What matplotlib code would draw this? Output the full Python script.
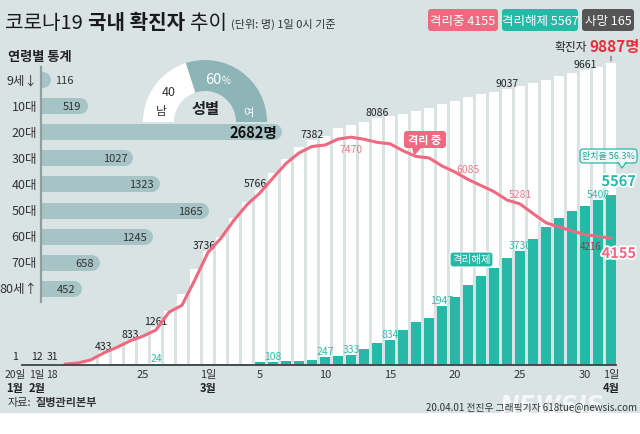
import numpy as np
import pandas as pd
import matplotlib
matplotlib.use("Agg")
import matplotlib.pyplot as plt
from matplotlib import font_manager
from matplotlib.patches import Rectangle, Wedge, FancyBboxPatch, Polygon
import matplotlib.patheffects as pe

KR = "Noto Sans CJK KR"
_avail = {f.name for f in font_manager.fontManager.ttflist}
NARROW = "Liberation Sans Narrow" if "Liberation Sans Narrow" in _avail else KR
NUM = [NARROW, KR, "DejaVu Sans"]
plt.rcParams["font.family"] = [KR, "DejaVu Sans"]

# -----------------------------
# data (1일 0시 기준)
# -----------------------------
days = pd.date_range("2020-02-18", "2020-04-01")
confirmed = [31, 46, 104, 204, 433, 602, 833, 977, 1261, 1766, 2337, 3150,
             3736, 4212, 4812, 5328, 5766, 6284, 6767, 7134, 7382, 7513,
             7755, 7869, 7979, 8086, 8162, 8236, 8320, 8413, 8565, 8652,
             8799, 8897, 8961, 9037, 9137, 9241, 9332, 9478, 9583, 9661,
             9786, 9887]
released = [12, 12, 16, 16, 16, 18, 18, 22, 24, 24, 26, 27,
            28, 30, 30, 34, 88, 108, 118, 130, 166, 247,
            288, 333, 510, 714, 834, 1137, 1401, 1540, 1947, 2233,
            2612, 2909, 3166, 3507, 3730, 4144, 4528, 4811, 5033, 5228,
            5408, 5567]
isolated = [np.nan, 30, 65, 170, 400, 580, 790, 945, 1150, 1730, 1960, 2800,
            3690, 4159, 4750, 5255, 5643, 6134, 6605, 6954, 7165, 7212,
            7407, 7470, 7402, 7300, 7253, 7024, 6838, 6789, 6527, 6325,
            6085, 5884, 5684, 5410, 5281, 4966, 4665, 4523, 4398, 4275,
            4216, 4155]
deaths_total = 165

# 압축 구간 (1월 20일, 2월 1일)
early_x = [-2.85, -1.15]
early_vals = [1, 12]
early_days = ["20일", "1일"]
early_months = ["1월", "2월"]

tick_dates = ["2020-02-18", "2020-02-25", "2020-03-01", "2020-03-05", "2020-03-10",
              "2020-03-15", "2020-03-20", "2020-03-25", "2020-03-30", "2020-04-01"]
conf_label_dates = ["2020-02-22", "2020-02-24", "2020-02-26", "2020-03-01", "2020-03-05",
                    "2020-03-09", "2020-03-14", "2020-03-24", "2020-03-30"]
rel_label_dates = ["2020-02-26", "2020-03-06", "2020-03-10", "2020-03-12", "2020-03-15",
                   "2020-03-19", "2020-03-25", "2020-03-31"]
iso_label_dates = ["2020-03-12", "2020-03-21", "2020-03-25", "2020-03-31"]

age_groups = ["9세↓", "10대", "20대", "30대", "40대", "50대", "60대", "70대", "80세↑"]
age_counts = [116, 519, 2682, 1027, 1323, 1865, 1245, 658, 452]

gender = ["남", "여"]
gender_pct = [40, 60]

# colors
BG = "#d9e3e4"
TEAL = "#27b9a7"
PINK = "#ef6a80"
AGE = "#a6c3c5"
FEM = "#8db4b6"
DARK = "#222222"

x = np.array([(d - days[0]).days for d in days])
idx = {d.strftime("%Y-%m-%d"): i for i, d in enumerate(days)}

# -----------------------------
# figure / axes in pixel layout
# -----------------------------
W, H = 640, 435
fig = plt.figure(figsize=(6.4, 4.35), dpi=100)
fig.patch.set_facecolor("white")


def px_axes(x0, y0, x1, y1, z):
    a = fig.add_axes([x0 / W, 1 - y1 / H, (x1 - x0) / W, (y1 - y0) / H], zorder=z)
    a.set_axis_off()
    return a


bg = px_axes(0, 0, W, H, 0)
bg.set_xlim(0, W)
bg.set_ylim(H, 0)
bg.add_patch(Rectangle((0, 0), W, 414, color=BG, lw=0))

# main chart: Feb 18 at x=52px, 13px per day, baseline y=366px
X0, PXD, BASE, PXC = 52, 13.0, 366, 0.0305
ax = px_axes(0, 40, W, BASE, 2)
ax.set_xlim(-X0 / PXD, (W - X0) / PXD)
ax.set_ylim(0, (BASE - 40) / PXC)

ax.bar(x, confirmed, width=0.76, color="white", lw=0, zorder=2)
ax.bar(x, released, width=0.76, color=TEAL, lw=0, zorder=3)
ax.plot(x, isolated, color=PINK, lw=2.2, zorder=4, solid_capstyle="round")
ax.plot([-2.3, 43.35], [0, 0], color="#3b4444", lw=1.3, zorder=5, clip_on=False)


def lab(xv, yv, s, dx=0, dy=1, va="bottom", **kw):
    kw.setdefault("fontsize", 7.5)
    kw.setdefault("fontfamily", NUM)
    ax.annotate(s, (xv, yv), xytext=(dx, dy), textcoords="offset pixels",
                ha=kw.pop("ha", "center"), va=va, annotation_clip=False, **kw)


# early compressed points
for ex, ev in zip(early_x, early_vals):
    lab(ex, 0, str(ev), dy=4, color=DARK, fontsize=7.5)
lab(x[0], 0, str(confirmed[0]), dy=4, color=DARK, fontsize=7.5)

conf_dx = {"2020-03-01": -4, "2020-03-05": -5}
for d in conf_label_dates:
    i = idx[d]
    lab(x[i], confirmed[i], str(confirmed[i]), dx=conf_dx.get(d, 0), color=DARK)

for d in rel_label_dates:
    i = idx[d]
    lab(x[i], released[i], str(released[i]), color="#35bcab")

iso_dy = {"2020-03-12": -12, "2020-03-21": 10, "2020-03-25": 10, "2020-03-31": -10}
for d in iso_label_dates:
    i = idx[d]
    col = "#8d3a4b" if d == "2020-03-31" else "#f07a8c"
    lab(x[i], isolated[i], str(int(isolated[i])), dx=-7 if d == "2020-03-31" else 0,
        dy=iso_dy[d], va="center", color=col, fontsize=7 if d == "2020-03-31" else 7.5)

# x tick labels
for ex, dl, ml in zip(early_x, early_days, early_months):
    lab(ex, 0, dl, dy=-9, va="center", color="#333333", fontsize=7.5)
    lab(ex, 0, ml, dy=-23, va="center", color=DARK, fontsize=8, fontweight="bold")
for d in tick_dates:
    i = idx[d]
    day = days[i].day
    lab(x[i], 0, f"{day}일" if day == 1 else str(day), dy=-9, va="center",
        color="#333333", fontsize=7.5 if d == "2020-02-18" else 8)
    if day == 1:
        lab(x[i], 0, f"{days[i].month}월", dy=-23, va="center", color=DARK,
            fontsize=8, fontweight="bold")

# marker line for total confirmed
ax.annotate("", (x[-1], confirmed[-1]), xytext=(0, 10), textcoords="offset pixels",
            arrowprops=dict(arrowstyle="-", color="#666666", lw=0.8), annotation_clip=False)

# -----------------------------
# age bars
# -----------------------------
AGE_MAX = 3000
age_w = AGE_MAX * 0.0899
ax_age = px_axes(41, 68, 41 + age_w, 68 + 9 * 26.1, 3)
ax_age.set_xlim(0, AGE_MAX)
ax_age.set_ylim(8.5, -0.5)
cap = 8 / (age_w / AGE_MAX)
for i, (g, v) in enumerate(zip(age_groups, age_counts)):
    ax_age.plot([-300, v - cap], [i, i], color=AGE, lw=11.5, solid_capstyle="round")
    ax_age.annotate(g, (0, i), xytext=(-4, 0), textcoords="offset pixels", ha="right",
                    va="center", fontsize=9, color="#333333", annotation_clip=False,
                    fontfamily=[KR, "DejaVu Sans"])
    if v == max(age_counts):
        ax_age.annotate(f"{v}명", (v, i), xytext=(-5, 0), textcoords="offset pixels",
                        ha="right", va="center", fontsize=10.5, fontweight="bold",
                        color="#111111", fontfamily=NUM)
    elif v < 300:
        ax_age.annotate(str(v), (v, i), xytext=(4, 0), textcoords="offset pixels",
                        ha="left", va="center", fontsize=8, color="#333333", fontfamily=NUM)
    else:
        ax_age.annotate(str(v), (v, i), xytext=(-6, 0), textcoords="offset pixels",
                        ha="right", va="center", fontsize=8, color="#333333", fontfamily=NUM)
ax_age.axvline(0, color="#8e9fa0", lw=1.6, clip_on=False)

# -----------------------------
# overlay: donut, titles, callouts
# -----------------------------
ov = px_axes(0, 0, W, H, 4)
ov.set_xlim(0, W)
ov.set_ylim(H, 0)

cx, cy = 205, 123
start = 180
for g, p, col in zip(gender, gender_pct, ["white", FEM]):
    span = 180 * p / 100
    ov.add_patch(Wedge((cx, cy), 62, start, start + span, width=31, color=col, lw=0))
    start += span
ov.text(169, 93, str(gender_pct[0]), ha="center", va="center", fontsize=9, color="#333333",
        fontfamily=NUM)
ov.text(161, 111, gender[0], ha="center", va="center", fontsize=8.5, color="#333333")
ov.text(222, 80, f"{gender_pct[1]}", ha="right", va="center", fontsize=10.5, color="white",
        fontfamily=NUM)
ov.text(222, 81, "%", ha="left", va="center", fontsize=7, color="white")
ov.text(248, 113, gender[1], ha="center", va="center", fontsize=8, color="white")
ov.text(205, 109, "성별", ha="center", va="center", fontsize=11, fontweight="bold", color=DARK)
ov.text(8, 57, "연령별 통계", ha="left", va="center", fontsize=9.5, fontweight="bold",
        color=DARK)

R = fig.canvas.get_renderer()


def chain(x0, y0, s, **kw):
    t = ov.text(x0, y0, s, ha="left", va="baseline", **kw)
    return t.get_window_extent(R).x1


xe = chain(5, 29, "코로나19", fontsize=14.5, color="#1a1a1a")
xe = chain(xe + 5, 29, "국내 확진자", fontsize=14.5, fontweight="bold", color="#1a1a1a")
xe = chain(xe + 5, 29, "추이", fontsize=14.5, color="#1a1a1a")
chain(xe + 4, 28, "(단위: 명) 1일 0시 기준", fontsize=8, color="#333333",
      fontfamily=[KR, "DejaVu Sans"])

# badges
badges = [(428, 498, PINK, "격리중", isolated[-1]),
          (502, 578, TEAL, "격리해제", released[-1]),
          (582, 634, "#555555", "사망", deaths_total)]
for bx0, bx1, col, name, val in badges:
    ov.add_patch(FancyBboxPatch((bx0, 10), bx1 - bx0, 22,
                                boxstyle="round,pad=0,rounding_size=3", color=col, lw=0))
    ov.text((bx0 + bx1) / 2, 21.5, f"{name} {int(val)}", ha="center", va="center",
            fontsize=9, color="white", fontfamily=NUM)

# total confirmed label
ov.text(587, 48, "확진자", ha="right", va="center", fontsize=8.5, color=DARK)
ov.text(589, 47, f"{confirmed[-1]}명", ha="left", va="center", fontsize=11,
        fontweight="bold", color="#e3303c", fontfamily=NUM)

# callout: 격리 중
ov.add_patch(FancyBboxPatch((404, 132), 42, 17, boxstyle="round,pad=0,rounding_size=3",
                            color=PINK, lw=0))
ov.add_patch(Polygon([(412, 148), (422, 148), (414, 157)], color=PINK, lw=0))
ov.text(425, 140.5, "격리 중", ha="center", va="center", fontsize=8, fontweight="bold",
        color="white")

# callout: 격리해제
ov.add_patch(FancyBboxPatch((450, 253), 43, 15, boxstyle="round,pad=0,rounding_size=3",
                            fc=TEAL, ec="white", lw=0.8))
ov.text(471.5, 260.5, "격리해제", ha="center", va="center", fontsize=7.5, color="white")

# callout: 완치율
rate = released[-1] / confirmed[-1] * 100
ov.add_patch(FancyBboxPatch((580, 150), 57, 14, boxstyle="round,pad=0,rounding_size=3",
                            fc="#f2f8f7", ec=TEAL, lw=0.9))
ov.add_patch(Polygon([(618, 163.5), (626, 163.5), (622, 169)], fc="#f2f8f7", ec=TEAL,
                     lw=0.9))
ov.add_patch(Rectangle((618.6, 162), 6.8, 2, color="#f2f8f7", lw=0))
ov.text(608.5, 157, f"완치율 {rate:.1f}%", ha="center", va="center", fontsize=6.5,
        color="#1fa795", fontfamily=NUM)

stroke = [pe.withStroke(linewidth=2.5, foreground="white")]
ov.text(636, 182, str(released[-1]), ha="right", va="center", fontsize=10.5,
        fontweight="bold", color=TEAL, fontfamily=NUM, path_effects=stroke)
ov.text(636, 254, str(isolated[-1]), ha="right", va="center", fontsize=10.5,
        fontweight="bold", color=PINK, fontfamily=NUM, path_effects=stroke)

# footer
xe = chain(8, 406, "자료:", fontsize=8, color="#333333")
chain(xe + 4, 406, "질병관리본부", fontsize=8, fontweight="bold", color="#333333")
ov.text(552, 406, "NEWSIS", ha="center", va="center", fontsize=17, fontweight="bold",
        style="italic", color="white", alpha=0.75, fontfamily="DejaVu Sans")
ov.text(637, 407, "20.04.01 전진우 그래픽기자 618tue@newsis.com", ha="right",
        va="center", fontsize=7, color="#333333", fontfamily=NUM)

fig.savefig("out.png", dpi=100)
